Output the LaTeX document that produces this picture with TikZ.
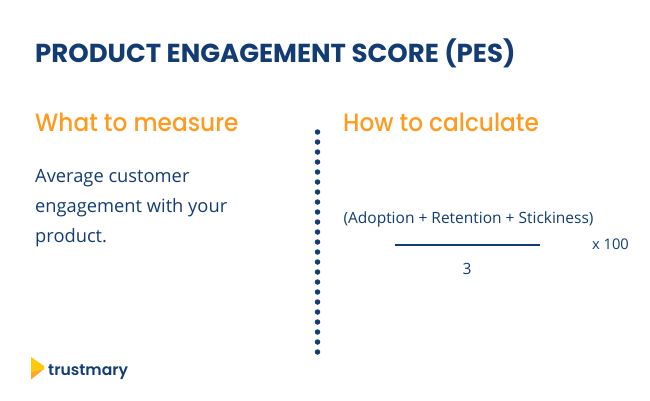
\documentclass[tikz,border=0pt]{standalone}
\usepackage{fontspec}
\setmainfont{Poppins}
\newfontfamily\bodyfont{Open Sans}
\newfontfamily\headfont[FakeStretch=0.93]{Poppins Medium}
\definecolor{navy}{HTML}{123C72}
\definecolor{amber}{HTML}{FF9A1E}
\definecolor{logoyellow}{HTML}{FFC90A}
\definecolor{logoorange}{HTML}{FFA726}
\tikzset{
  x=1pt,y=-1pt,
  titletext/.style={anchor=base west,inner sep=0,text=navy,font=\fontsize{26}{30}\selectfont\bfseries},
  headtext/.style={anchor=base west,inner sep=0,text=amber,font=\fontsize{25}{30}\headfont},
  bodytext/.style={anchor=base west,inner sep=0,text=navy,font=\fontsize{18.3}{22}\bodyfont},
  formula/.style={anchor=base,inner sep=0,text=navy,font=\fontsize{15.5}{18}\bodyfont},
  dotmark/.style={circle,fill=navy,inner sep=0,minimum size=5.5pt},
}
\begin{document}
\begin{tikzpicture}
\useasboundingbox (0,0) rectangle (650,400);
\node[titletext] (title) at (35,62) {PRODUCT ENGAGEMENT SCORE (PES)};
\node[headtext] (what) at (35,131) {What to measure};
\node[headtext] (how) at (343,131) {How to calculate};
\node[bodytext] (b1) at (35,182) {Average customer};
\node[bodytext] (b2) at (35,212) {engagement with your};
\node[bodytext] (b3) at (35,242) {product.};
\foreach \i in {0,...,22} \node[dotmark] (d\i) at (317.5,132+10*\i) {};
\node[formula] (num) at (468.5,223) {(Adoption + Retention + Stickiness)};
\coordinate (fa) at (395,244.5);
\coordinate (fb) at (540,244.5);
\draw[navy,line width=2pt] (fa) -- (fb);
\node[formula] (den) at (467,274) {3};
\node[formula,font=\fontsize{14.7}{18}\bodyfont] (x) at (610.5,249) {x 100};
\fill[logoyellow] (31,357) -- (44,366) -- (44,369) -- (31,372) -- cycle;
\fill[logoorange] (44,369) -- (31,379.5) -- (31,372) -- cycle;
\node[anchor=base west,inner sep=0,text=navy,font=\fontsize{15.6}{20}\selectfont\fontspec{Poppins SemiBold}] (logo) at (48,375) {trustmary};
\end{tikzpicture}
\end{document}
